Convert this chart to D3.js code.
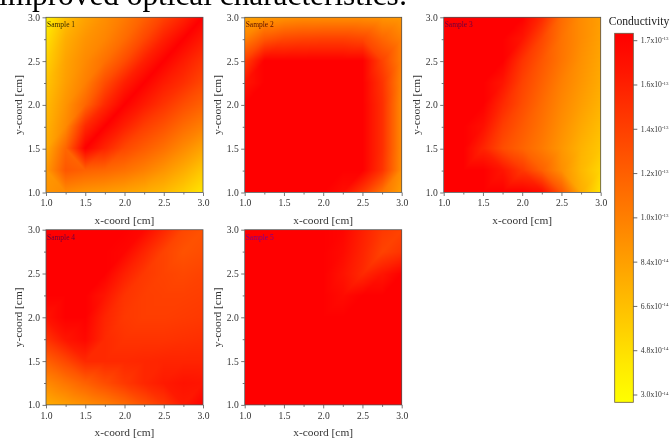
<!DOCTYPE html>
<html><head><meta charset="utf-8">
<script src="https://cdn.jsdelivr.net/npm/d3@7"></script>
<style>
html,body{margin:0;padding:0;background:#fff;overflow:hidden}
#wrap{position:relative;width:672px;height:439px;filter:blur(0.55px)}
canvas{position:absolute}
svg{position:absolute;left:0;top:0}
text{font-family:"Liberation Serif",serif}
</style></head><body><div id="wrap"></div>
<script>
const heading = "improved optical characteristics:";
const coords = [1,1.25,1.5,1.75,2,2.25,2.5,2.75,3];
const rowsY = [3,2.75,2.5,2.25,2,1.75,1.5,1.25,1];
const axisTicks = [1,1.5,2,2.5,3];
const minorTicks = [1.25,1.75,2.25,2.75];
const sampleNames = ["Sample 1","Sample 2","Sample 3","Sample 4","Sample 5"];
const sampleLabelColors = ["#3a2a00","#5a1000","#6a0040","#6a0040","#7a0090"];
// Conductivity, as a position on the colour bar (0 = 3.0e-14, 1 = 1.74e-13)
const sample1 = [
[.05,.25,.36,.44,.52,.62,.74,.86,1],
[.12,.32,.42,.48,.58,.72,.88,1,.9],
[.18,.36,.46,.56,.7,.88,1,.9,.8],
[.23,.38,.5,.7,.88,1,.9,.82,.72],
[.27,.42,.6,.84,1,.9,.8,.7,.62],
[.3,.46,.84,1,.88,.76,.68,.58,.5],
[.33,.6,1,.86,.72,.64,.56,.46,.36],
[.4,.66,.62,.6,.56,.5,.42,.33,.22],
[.42,.46,.42,.4,.37,.33,.28,.2,.1]];
const sample2 = [
[.36,.4,.42,.44,.44,.44,.44,.42,.4],
[.5,.66,.72,.74,.75,.75,.72,.6,.5],
[.76,1,1,1,1,1,1,.74,.5],
[.92,1,1,1,1,1,1,.8,.47],
[1,1,1,1,1,1,1,.82,.45],
[1,1,1,1,1,1,1,.82,.45],
[1,1,1,1,1,1,1,.82,.45],
[1,1,1,1,1,1,1,.8,.44],
[1,1,1,1,1,.95,.78,.55,.38]];
const sample3 = [
[1,1,1,1,1,.84,.58,.45,.38],
[1,1,1,1,.92,.72,.55,.45,.37],
[1,1,1,1,.8,.66,.54,.43,.35],
[1,1,1,.92,.74,.62,.5,.41,.33],
[1,1,1,.84,.7,.58,.47,.38,.3],
[1,1,.94,.76,.65,.55,.44,.34,.26],
[1,1,.86,.7,.61,.52,.41,.3,.22],
[1,1,1,.92,.78,.62,.44,.28,.16],
[1,1,1,1,1,.95,.66,.32,.1]];
const sample4 = [
[1,1,1,1,1,.97,.85,.72,.68],
[1,1,1,1,.98,.86,.74,.68,.7],
[1,1,1,1,.88,.78,.74,.72,.74],
[1,1,1,.92,.8,.76,.75,.75,.76],
[.93,1,1,.86,.78,.76,.76,.77,.78],
[.8,.92,.97,.84,.8,.8,.8,.81,.82],
[.62,.72,.84,.84,.84,.85,.86,.86,.86],
[.46,.54,.62,.7,.78,.85,.9,.93,.92],
[.32,.38,.44,.5,.58,.68,.78,.9,1]];
const sample5 = [
[1,1,1,1,1,.98,.88,.78,.74],
[1,1,1,1,1,.96,.86,.74,.8],
[1,1,1,1,1,.93,.84,.92,1],
[1,1,1,1,1,.96,1,1,1],
[1,1,1,1,1,1,1,1,1],
[1,1,1,1,1,1,1,1,1],
[1,1,1,1,1,1,1,1,1],
[1,1,1,1,1,1,1,1,1],
[1,1,1,1,1,1,1,1,1]];
const samples = [sample1,sample2,sample3,sample4,sample5];
const barTickValues = [3.0e-14,4.8e-14,6.6e-14,8.4e-14,1.02e-13,1.2e-13,1.38e-13,1.56e-13,1.74e-13];
const barTickMantissa = ["3.0","4.8","6.6","8.4","1.0","1.2","1.4","1.6","1.7"];
const barTickExponent = ["-14","-14","-14","-14","-13","-13","-13","-13","-13"];
const gradientStops = ["#ffff00","#ff0000"];

const W=672,H=439;
const panelLeft=[46,244.7,443.7,46,244.7], panelTop=[17.3,17.3,17.3,229.7,229.7];
const panelW=157, panelH=175.2;
const wrap=d3.select("#wrap");
const svg=wrap.append("svg").attr("width",W).attr("height",H);
const axisCol="#555", textCol="#333";

const level=d3.scaleLinear([0,1],[3.0e-14,1.74e-13]);
const colour=d3.scaleLinear([3.0e-14,1.74e-13],gradientStops).clamp(true);

svg.append("text").text(heading).attr("x",-1).attr("y",5).attr("font-size",31.3).attr("fill","#000");

// Triangulated surface: cells split along lower-left to upper-right unless the other diagonal is clearly flatter
function sampleAt(g,x,y){
  const asc=rowsY.slice().reverse();
  const i=Math.min(coords.length-2,Math.max(0,d3.bisectRight(coords,x)-1));
  const k=Math.min(asc.length-2,Math.max(0,d3.bisectRight(asc,y)-1));
  const tx=(x-coords[i])/(coords[i+1]-coords[i]), ty=(y-asc[k])/(asc[k+1]-asc[k]);
  const row=r=>g[asc.length-1-r];
  const a=row(k)[i],b=row(k)[i+1],c=row(k+1)[i],d=row(k+1)[i+1];
  if(Math.abs(c-b)+.15>=Math.abs(d-a)) return tx>=ty ? a+(b-a)*tx+(d-b)*ty : a+(c-a)*ty+(d-c)*tx;
  return tx+ty<=1 ? a+(b-a)*tx+(c-a)*ty : d+(c-d)*(1-tx)+(b-d)*(1-ty);
}

samples.forEach((g,idx)=>{
  const L=panelLeft[idx],T=panelTop[idx];
  const x=d3.scaleLinear([1,3],[L,L+panelW]);
  const y=d3.scaleLinear([1,3],[T+panelH,T]);
  const cw=Math.round(panelW), ch=Math.round(panelH);
  const cv=wrap.insert("canvas","svg").attr("width",cw).attr("height",ch)
    .style("left",L+"px").style("top",T+"px").style("width",panelW+"px").style("height",panelH+"px").node();
  const ctx=cv.getContext("2d");
  const img=ctx.createImageData(cw,ch);
  for(let py=0;py<ch;py++)for(let px=0;px<cw;px++){
    const vx=x.invert(L+(px+.5)*panelW/cw), vy=y.invert(T+(py+.5)*panelH/ch);
    const c=d3.rgb(colour(level(sampleAt(g,vx,vy))));
    const o=(py*cw+px)*4;
    img.data[o]=c.r;img.data[o+1]=c.g;img.data[o+2]=c.b;img.data[o+3]=255;
  }
  ctx.putImageData(img,0,0);

  const p=svg.append("g");
  const ax=d3.axisBottom(x).tickValues(axisTicks).tickFormat(d3.format(".1f")).tickSize(3.5).tickPadding(3.5);
  const ay=d3.axisLeft(y).tickValues(axisTicks).tickFormat(d3.format(".1f")).tickSize(3.5).tickPadding(2.5);
  p.append("g").attr("transform",`translate(0,${T+panelH})`).call(ax);
  p.append("g").attr("transform",`translate(${L},0)`).call(ay);
  p.append("g").attr("transform",`translate(0,${T+panelH})`).call(d3.axisBottom(x).tickValues(minorTicks).tickFormat("").tickSize(2));
  p.append("g").attr("transform",`translate(${L},0)`).call(d3.axisLeft(y).tickValues(minorTicks).tickFormat("").tickSize(2));
  p.selectAll(".domain").remove();
  p.selectAll(".tick line").attr("stroke",axisCol).attr("stroke-width",.8);
  p.selectAll(".tick text").attr("font-size",9.6).attr("font-family","Liberation Serif").attr("fill",textCol);
  p.append("rect").attr("x",L).attr("y",T).attr("width",panelW).attr("height",panelH)
    .attr("fill","none").attr("stroke",axisCol).attr("stroke-width",.8);
  p.append("text").text("x-coord [cm]").attr("x",L+panelW/2).attr("y",T+panelH+31.5).attr("text-anchor","middle")
    .attr("font-size",11.4).attr("fill",textCol);
  p.append("text").text("y-coord [cm]").attr("transform",`translate(${L-24},${T+panelH/2}) rotate(-90)`)
    .attr("text-anchor","middle").attr("font-size",11.4).attr("fill",textCol);
  p.append("text").text(sampleNames[idx]).attr("x",L+1).attr("y",T+9.8).attr("font-size",7.5).attr("fill",sampleLabelColors[idx]);
});

// Colour bar
const barL=614.7,barW=18.6,barT=33.3,barB=402.3;
const barY=d3.scaleLinear([3.0e-14,1.74e-13],[395,40.7]);
const defs=svg.append("defs");
const lg=defs.append("linearGradient").attr("id","bar").attr("x1",0).attr("x2",0).attr("y1",1).attr("y2",0);
const vMin=barY.invert(barB),vMax=barY.invert(barT);
d3.range(0,11).forEach(i=>{const f=i/10;lg.append("stop").attr("offset",f).attr("stop-color",colour(vMin+(vMax-vMin)*f));});
svg.append("rect").attr("x",barL).attr("y",barT).attr("width",barW).attr("height",barB-barT).attr("fill","url(#bar)")
  .attr("stroke","#6a5a40").attr("stroke-width",.8);
const barG=svg.append("g").selectAll("g").data(barTickValues).join("g").attr("transform",d=>`translate(${barL+barW},${barY(d)})`);
barG.append("line").attr("x2",4).attr("stroke","#444").attr("stroke-width",.8);
const lab=barG.append("text").attr("x",7.5).attr("y",2.4).attr("font-size",7.7).attr("fill",textCol);
lab.append("tspan").text((d,i)=>barTickMantissa[i]+"x10");
lab.append("tspan").text((d,i)=>barTickExponent[i]).attr("font-size",5).attr("dy",-2.8);
svg.append("text").text("Conductivity").attr("x",639).attr("y",24.5).attr("text-anchor","middle").attr("font-size",11.6).attr("fill","#222");
</script></body></html>
